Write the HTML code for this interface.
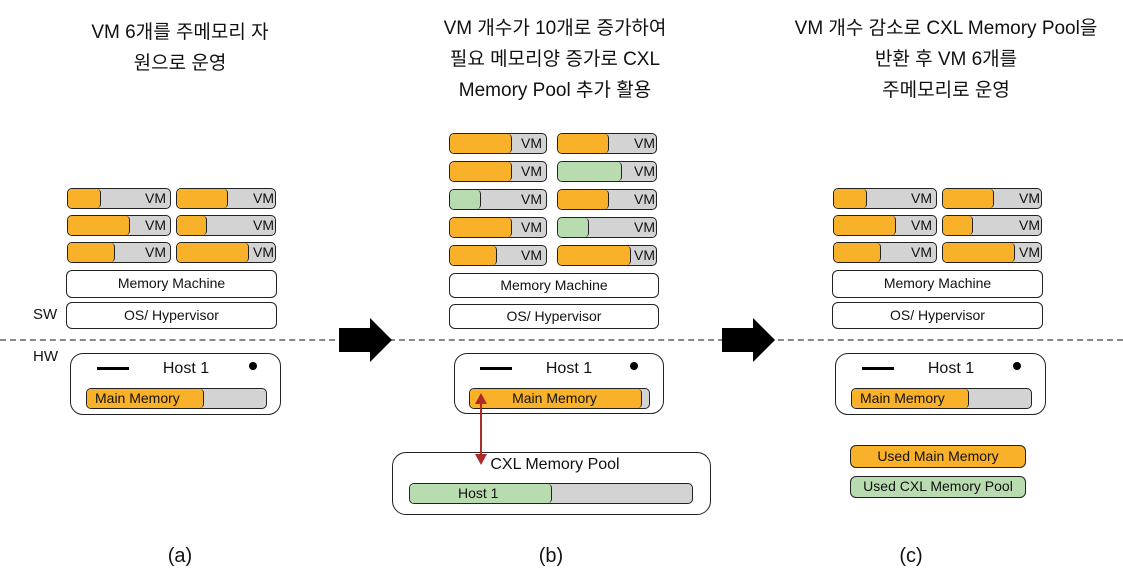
<!DOCTYPE html>
<html><head><meta charset="utf-8"><style>
body{margin:0;width:1123px;height:584px;background:#fff;position:relative;overflow:hidden;font-family:"Liberation Sans","Noto Sans CJK KR",sans-serif;color:#111}
.a{position:absolute;box-sizing:border-box}
.vm{position:absolute;box-sizing:border-box;height:21px;border:1.5px solid #222;border-radius:5px;background:#d3d3d3;overflow:hidden}
.vm .f{position:absolute;left:0;top:0;bottom:0;border-right:1.5px solid #222;border-radius:0 4px 4px 0}
.o{background:#f9b12a}.g{background:#b8dcb0}
.vm span{position:absolute;right:4px;top:1px;font-size:14px;line-height:17px}
.box{position:absolute;box-sizing:border-box;border:1.5px solid #222;border-radius:6px;background:#fff;text-align:center;font-size:14px}
.host{position:absolute;box-sizing:border-box;border:1.5px solid #222;border-radius:13px;background:#fff}
.t{position:absolute;text-align:center;font-size:19px;line-height:31px;transform:translateX(-50%);white-space:nowrap}
</style></head><body>
<div class="t" style="left:180px;top:17px">VM 6개를 주메모리 자<br>원으로 운영</div>
<div class="t" style="left:555px;top:13px">VM 개수가 10개로 증가하여<br>필요 메모리양 증가로 CXL<br>Memory Pool 추가 활용</div>
<div class="t" style="left:946px;top:13px">VM 개수 감소로 CXL Memory Pool을<br>반환 후 VM 6개를<br>주메모리로 운영</div>
<div class="t" style="left:180px;top:541px;font-size:20px">(a)</div>
<div class="t" style="left:551px;top:541px;font-size:20px">(b)</div>
<div class="t" style="left:911px;top:541px;font-size:20px">(c)</div>

<div class="a" style="left:0;top:339px;width:1123px;border-top:2px dashed #888"></div>

<!-- panel a -->
<div class="a" style="left:33px;top:306px;font-size:15px">SW</div>
<div class="a" style="left:33px;top:348px;font-size:15px">HW</div>
<div class="vm" style="left:67px;top:188px;width:104px"><div class="f o" style="width:32px"></div><span>VM</span></div>
<div class="vm" style="left:176px;top:188px;width:100px"><div class="f o" style="width:50px"></div><span style="right:1px">VM</span></div>
<div class="vm" style="left:67px;top:215px;width:104px"><div class="f o" style="width:61px"></div><span>VM</span></div>
<div class="vm" style="left:176px;top:215px;width:100px"><div class="f o" style="width:29px"></div><span style="right:1px">VM</span></div>
<div class="vm" style="left:67px;top:242px;width:104px"><div class="f o" style="width:46px"></div><span>VM</span></div>
<div class="vm" style="left:176px;top:242px;width:100px"><div class="f o" style="width:71px"></div><span style="right:1px">VM</span></div>
<div class="box" style="left:66px;top:270px;width:211px;height:28px;line-height:25px">Memory Machine</div>
<div class="box" style="left:66px;top:302px;width:211px;height:27px;line-height:24px">OS/ Hypervisor</div>
<div class="host" style="left:70px;top:353px;width:211px;height:62px"></div>
<div class="a" style="left:97px;top:367px;width:32px;height:3px;background:#000"></div>
<div class="a" style="left:249px;top:362px;width:8px;height:8px;border-radius:50%;background:#000"></div>
<div class="a" style="left:150px;top:360px;width:72px;text-align:center;font-size:16px">Host 1</div>
<div class="vm" style="left:86px;top:388px;width:181px;height:21px"><div class="f o" style="width:116px"></div><span style="left:8px;right:auto">Main Memory</span></div>

<!-- panel b -->
<div class="vm" style="left:449px;top:133px;width:98px"><div class="f o" style="width:61px"></div><span>VM</span></div>
<div class="vm" style="left:557px;top:133px;width:100px"><div class="f o" style="width:50px"></div><span style="right:1px">VM</span></div>
<div class="vm" style="left:449px;top:161px;width:98px"><div class="f o" style="width:61px"></div><span>VM</span></div>
<div class="vm" style="left:557px;top:161px;width:100px"><div class="f g" style="width:63px"></div><span style="right:1px">VM</span></div>
<div class="vm" style="left:449px;top:189px;width:98px"><div class="f g" style="width:30px"></div><span>VM</span></div>
<div class="vm" style="left:557px;top:189px;width:100px"><div class="f o" style="width:50px"></div><span style="right:1px">VM</span></div>
<div class="vm" style="left:449px;top:217px;width:98px"><div class="f o" style="width:61px"></div><span>VM</span></div>
<div class="vm" style="left:557px;top:217px;width:100px"><div class="f g" style="width:30px"></div><span style="right:1px">VM</span></div>
<div class="vm" style="left:449px;top:245px;width:98px"><div class="f o" style="width:46px"></div><span>VM</span></div>
<div class="vm" style="left:557px;top:245px;width:100px"><div class="f o" style="width:72px"></div><span style="right:1px">VM</span></div>
<div class="box" style="left:449px;top:273px;width:210px;height:25px;line-height:22px">Memory Machine</div>
<div class="box" style="left:449px;top:304px;width:210px;height:25px;line-height:22px">OS/ Hypervisor</div>
<div class="host" style="left:454px;top:353px;width:210px;height:61px"></div>
<div class="a" style="left:480px;top:367px;width:32px;height:3px;background:#000"></div>
<div class="a" style="left:630px;top:362px;width:8px;height:8px;border-radius:50%;background:#000"></div>
<div class="a" style="left:533px;top:360px;width:72px;text-align:center;font-size:16px">Host 1</div>
<div class="vm" style="left:469px;top:388px;width:181px;height:21px"><div class="f o" style="width:171px"></div><span style="left:0;right:10px;text-align:center">Main Memory</span></div>
<div class="host" style="left:392px;top:452px;width:319px;height:63px;border-radius:14px;background:transparent"></div>
<div class="a" style="left:475px;top:456px;width:160px;text-align:center;font-size:16px">CXL Memory Pool</div>
<div class="vm" style="left:409px;top:483px;width:284px;height:21px"><div class="f g" style="width:141px"></div><span style="left:48px;right:auto">Host 1</span></div>

<!-- panel c -->
<div class="vm" style="left:833px;top:188px;width:104px"><div class="f o" style="width:32px"></div><span>VM</span></div>
<div class="vm" style="left:942px;top:188px;width:100px"><div class="f o" style="width:50px"></div><span style="right:1px">VM</span></div>
<div class="vm" style="left:833px;top:215px;width:104px"><div class="f o" style="width:61px"></div><span>VM</span></div>
<div class="vm" style="left:942px;top:215px;width:100px"><div class="f o" style="width:29px"></div><span style="right:1px">VM</span></div>
<div class="vm" style="left:833px;top:242px;width:104px"><div class="f o" style="width:46px"></div><span>VM</span></div>
<div class="vm" style="left:942px;top:242px;width:100px"><div class="f o" style="width:71px"></div><span style="right:1px">VM</span></div>
<div class="box" style="left:832px;top:270px;width:211px;height:28px;line-height:25px">Memory Machine</div>
<div class="box" style="left:832px;top:302px;width:211px;height:27px;line-height:24px">OS/ Hypervisor</div>
<div class="host" style="left:835px;top:353px;width:211px;height:62px"></div>
<div class="a" style="left:862px;top:367px;width:32px;height:3px;background:#000"></div>
<div class="a" style="left:1013px;top:362px;width:8px;height:8px;border-radius:50%;background:#000"></div>
<div class="a" style="left:915px;top:360px;width:72px;text-align:center;font-size:16px">Host 1</div>
<div class="vm" style="left:851px;top:388px;width:181px;height:21px"><div class="f o" style="width:116px"></div><span style="left:8px;right:auto">Main Memory</span></div>
<div class="box" style="left:850px;top:445px;width:176px;height:23px;line-height:20px;background:#f9b12a">Used Main Memory</div>
<div class="box" style="left:850px;top:476px;width:176px;height:22px;line-height:19px;background:#b8dcb0">Used CXL Memory Pool</div>

<svg class="a" style="left:0;top:0" width="1123" height="584">
<polygon points="339,328 370,328 370,318 392,340 370,362 370,352 339,352" fill="#000"/>
<polygon points="722,328 753,328 753,318 775,340 753,362 753,352 722,352" fill="#000"/>
<line x1="481" y1="402" x2="481" y2="456" stroke="#b02a2a" stroke-width="2"/>
<polygon points="475,404 487,404 481,393" fill="#b02a2a"/>
<polygon points="475,454 487,454 481,465" fill="#b02a2a"/>
</svg>
</body></html>
